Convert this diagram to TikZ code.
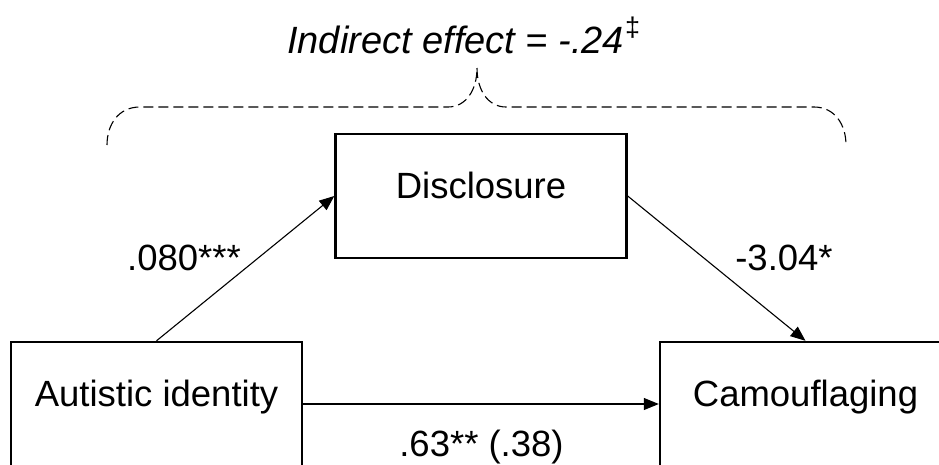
\documentclass[tikz,border=0pt]{standalone}
\usepackage{fontspec}
\setmainfont{Liberation Sans}
\usetikzlibrary{arrows.meta}
\begin{document}
\begin{tikzpicture}[x=1pt,y=-1pt,
  varbox/.style={draw, line width=2.4pt, minimum width=291pt, minimum height=124pt,
    inner sep=0pt, text height=26pt, text depth=22pt,
    font=\fontsize{36.5}{40}\selectfont},
  lbl/.style={anchor=base, inner sep=0pt, font=\fontsize{36.5}{40}\selectfont},
  path/.style={line width=1.1pt, -{Triangle[length=15pt,width=12pt]}},
  bracestyle/.style={line width=1.1pt, dash pattern=on 10pt off 5pt}]
\useasboundingbox (0,0) rectangle (939,464);
\node[varbox] (L) at (156.5,404) {Autistic identity};
\node[varbox] (D) at (481,196) {Disclosure};
\node[varbox] (R) at (805.5,404) {Camouflaging};
\draw[path] (L.north) -- (D.west);
\draw[path] (D.east) -- (R.north);
\draw[path] (L.east) -- (R.west);
\node[lbl] (a) at (184,270) {.080***};
\node[lbl] (b) at (784,270) {-3.04*};
\node[lbl] (c) at (481.5,456) {.63** (.38)};
\node[lbl, anchor=base west, font=\fontsize{38}{40}\selectfont] (t) at (287,53)
  {\itshape Indirect effect = -.24\kern1pt\raisebox{17pt}{\upshape\fontsize{27}{27}\selectfont ‡}};
\coordinate (b1) at (107,145);
\coordinate (b2) at (140,107);
\coordinate (b3) at (448,107);
\coordinate (bp) at (477,68);
\coordinate (b4) at (506,107);
\coordinate (b5) at (814,107);
\coordinate (b6) at (846,145);
\draw[bracestyle] (b1) .. controls (107,125) and (118,107) .. (b2) -- (b3)
  .. controls (466,107) and (477,90) .. (bp);
\draw[bracestyle] (bp) .. controls (477,90) and (488,107) .. (b4) -- (b5)
  .. controls (835,107) and (846,125) .. (b6);
\end{tikzpicture}
\end{document}
